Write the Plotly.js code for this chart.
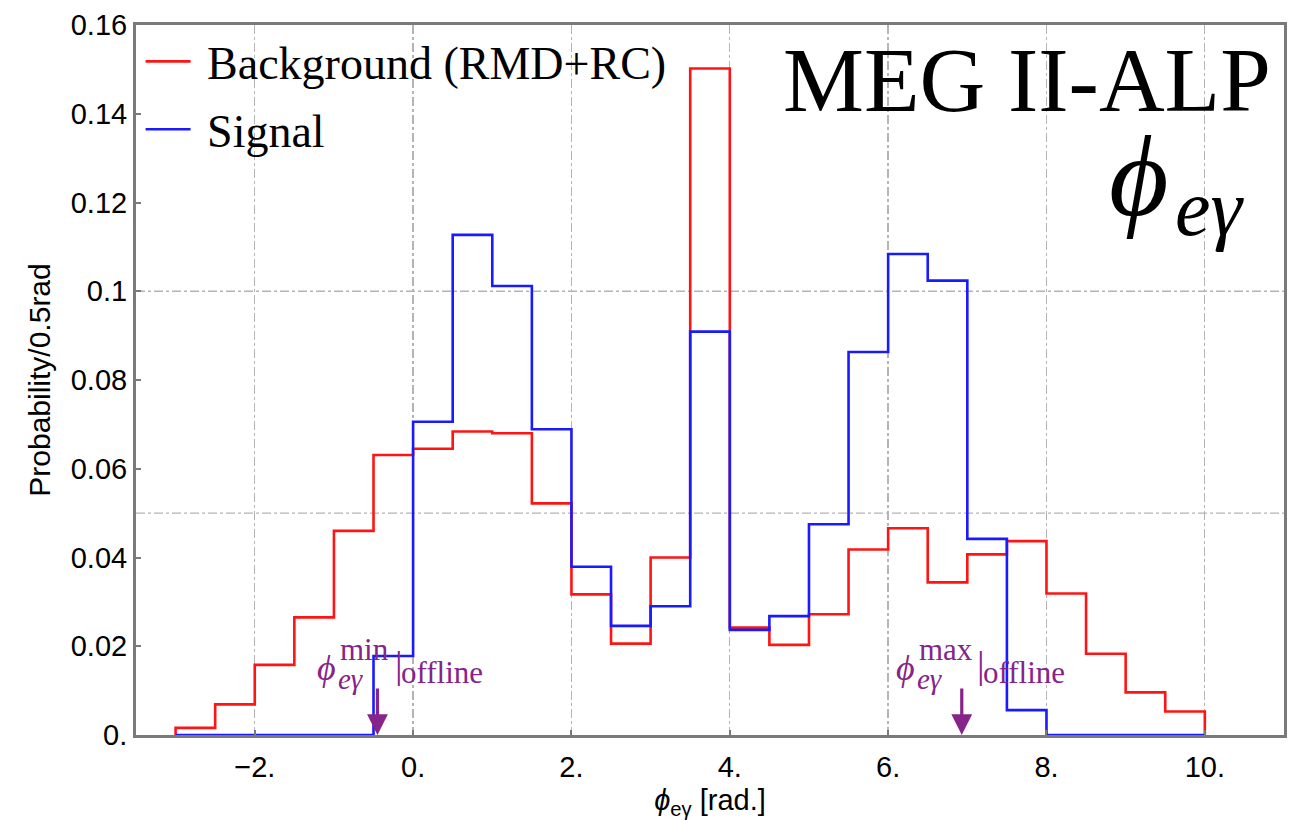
<!DOCTYPE html>
<html>
<head>
<meta charset="utf-8">
<script src="https://cdn.plot.ly/plotly-3.0.1.min.js"></script>
<style>
  html, body { margin: 0; padding: 0; background: #ffffff; }
  #chart { width: 1297px; height: 820px; }
</style>
</head>
<body>
<div id="chart"></div>
<script>
// Histogram bin edges (0.5 rad bins)
const binEdges = [-3, -2.5, -2, -1.5, -1, -0.5, 0, 0.5, 1, 1.5, 2, 2.5, 3, 3.5,
                  4, 4.5, 5, 5.5, 6, 6.5, 7, 7.5, 8, 8.5, 9, 9.5, 10];

// Probability per bin, background (RMD + RC)
const backgroundProb = [0.0016, 0.0069, 0.0158, 0.0265, 0.0460, 0.0631, 0.0645, 0.0684,
                        0.0680, 0.0522, 0.0317, 0.0206, 0.0400, 0.1502, 0.0242, 0.0203,
                        0.0272, 0.0418, 0.0466, 0.0344, 0.0407, 0.0437, 0.0319, 0.0183,
                        0.0096, 0.0053];

// Probability per bin, signal
const signalProb = [0, 0, 0, 0, 0, 0.0178, 0.0706, 0.1127, 0.1012, 0.0689, 0.0379, 0.0246,
                    0.0290, 0.0909, 0.0237, 0.0268, 0.0475, 0.0863, 0.1084, 0.1024, 0.0442,
                    0.0056, 0, 0, 0, 0];

const seriesNames = ['Background (RMD+RC)', 'Signal'];
const xTickVals = [-2, 0, 2, 4, 6, 8, 10];
const xTickText = ['\u22122.', '0.', '2.', '4.', '6.', '8.', '10.'];
const yTickVals = [0, 0.02, 0.04, 0.06, 0.08, 0.1, 0.12, 0.14, 0.16];
const yTickText = ['0.', '0.02', '0.04', '0.06', '0.08', '0.1', '0.12', '0.14', '0.16'];
const yGridVals = [0.05, 0.1];

// Offline phi_e-gamma window limits
const phiMinOffline = -0.45;
const phiMaxOffline = 6.93;

const serif = 'Liberation Serif, Times New Roman, serif';
const sans = 'Liberation Sans, Arial, Helvetica, sans-serif';
const purple = '#86248a';
const gridColor = '#b4b4b4';
const frameColor = '#7a7a7a';
const PHI = '\u03d5';

// Closed step outline of a histogram: rises from zero at the first edge, drops to zero at the last
function stepOutline(edges, vals) {
  const x = [edges[0]];
  const y = [0];
  for (let i = 0; i < vals.length; i++) { x.push(edges[i]); y.push(vals[i]); }
  x.push(edges[edges.length - 1]); y.push(0);
  return { x, y };
}

const bg = stepOutline(binEdges, backgroundProb);
const sg = stepOutline(binEdges, signalProb);

const traces = [
  {
    type: 'scatter', mode: 'lines', name: '\u00a0' + seriesNames[0], legendgroup: 'bg',
    x: bg.x, y: bg.y, line: { shape: 'hv', color: '#ff1414', width: 2.6 },
    hoverinfo: 'skip'
  },
  {
    type: 'scatter', mode: 'lines', name: '\u00a0' + seriesNames[1], legendgroup: 'sg',
    x: sg.x, y: sg.y, line: { shape: 'hv', color: '#1a1aff', width: 2.6 },
    hoverinfo: 'skip'
  }
];

// Label pieces for phi_{e gamma}^{min/max}|_offline, offsets in pixels from the arrow
function offlineLabel(xVal, phiDx, supText, barDx) {
  const base = { xref: 'x', yref: 'y', x: xVal, y: 0, showarrow: false,
                 xanchor: 'left', yanchor: 'middle' };
  const f = size => ({ family: serif, color: purple, size: size });
  return [
    Object.assign({}, base, { text: '<i>' + PHI + '</i>', xshift: phiDx, yshift: 67, font: f(36) }),
    Object.assign({}, base, { text: supText, xshift: phiDx + 23, yshift: 86, font: f(31) }),
    Object.assign({}, base, { text: '<i>e\u03b3</i>', xshift: phiDx + 21, yshift: 56, font: f(29) }),
    Object.assign({}, base, { text: '|', xshift: barDx, yshift: 70, font: f(38) }),
    Object.assign({}, base, { text: 'offline', xshift: barDx + 6, yshift: 63, font: f(31) })
  ];
}

function offlineArrow(xVal) {
  return {
    xref: 'x', yref: 'y', x: xVal, y: 0, ax: 0, ay: -48, axref: 'pixel', ayref: 'pixel',
    text: '', showarrow: true, arrowhead: 2, arrowsize: 1.3, arrowwidth: 3.2,
    arrowcolor: purple, standoff: 0
  };
}

const annotations = [
  {
    xref: 'paper', yref: 'paper', x: 0.99, y: 0.922, xanchor: 'right', yanchor: 'middle',
    text: 'MEG II-ALP', showarrow: false,
    font: { family: serif, size: 91, color: '#000000' }
  },
  {
    xref: 'paper', yref: 'paper', x: 0.846, y: 0.787, xanchor: 'left', yanchor: 'middle',
    text: '<i>' + PHI + '</i>', showarrow: false,
    font: { family: serif, size: 115, color: '#000000' }
  },
  {
    xref: 'paper', yref: 'paper', x: 0.903, y: 0.742, xanchor: 'left', yanchor: 'middle',
    text: '<i>e\u03b3</i>', showarrow: false,
    font: { family: serif, size: 80, color: '#000000' }
  },
  offlineArrow(phiMinOffline),
  offlineArrow(phiMaxOffline)
].concat(offlineLabel(phiMinOffline, -62, 'min', 16))
 .concat(offlineLabel(phiMaxOffline, -68, 'max', 13));

const shapes = yGridVals.map(v => ({
  type: 'line', xref: 'paper', yref: 'y', x0: 0, x1: 1, y0: v, y1: v, layer: 'below',
  line: { color: gridColor, width: 1.3, dash: 'dashdot' }
}));

const layout = {
  width: 1297, height: 820,
  margin: { l: 136, r: 13, t: 25, b: 85 },
  paper_bgcolor: '#ffffff', plot_bgcolor: '#ffffff',
  showlegend: true,
  legend: {
    x: 0.004, y: 1.0, xanchor: 'left', yanchor: 'top',
    bgcolor: 'rgba(0,0,0,0)', borderwidth: 0,
    font: { family: serif, size: 46, color: '#000000' },
    tracegroupgap: 5, itemwidth: 45
  },
  xaxis: {
    range: [-3.5, 11], tickmode: 'array', tickvals: xTickVals, ticktext: xTickText,
    ticks: 'inside', ticklen: 5, tickwidth: 2, tickcolor: frameColor,
    showline: true, linecolor: frameColor, linewidth: 3, mirror: true,
    showgrid: true, gridcolor: gridColor, gridwidth: 1.3, griddash: 'dashdot',
    zeroline: false, ticklabelstandoff: 4,
    tickfont: { family: sans, size: 29, color: '#000000' },
    title: { text: '<i>' + PHI + '</i><sub>e\u03b3</sub> [rad.]', standoff: 13,
             font: { family: sans, size: 29, color: '#000000' } }
  },
  yaxis: {
    range: [0, 0.16], tickmode: 'array', tickvals: yTickVals, ticktext: yTickText,
    ticks: 'inside', ticklen: 5, tickwidth: 2, tickcolor: frameColor,
    showline: true, linecolor: frameColor, linewidth: 3, mirror: true,
    showgrid: false, zeroline: false, ticklabelstandoff: 0,
    tickfont: { family: sans, size: 29, color: '#000000' },
    title: { text: 'Probability/0.5rad', standoff: 12,
             font: { family: sans, size: 30, color: '#000000' } }
  },
  annotations: annotations,
  shapes: shapes
};

Plotly.newPlot('chart', traces, layout, { displayModeBar: false, staticPlot: true });
</script>
</body>
</html>
